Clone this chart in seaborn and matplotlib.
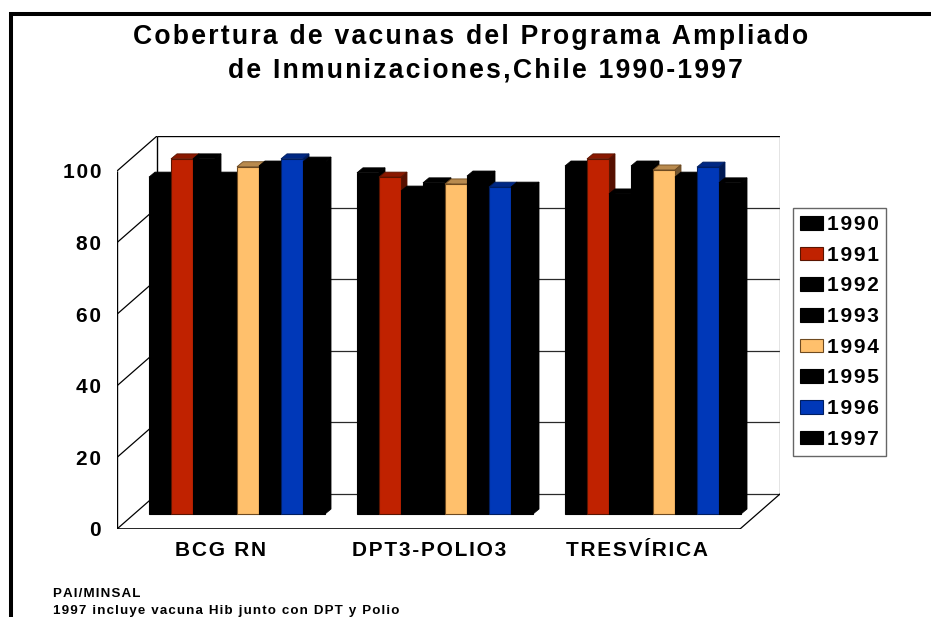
import numpy as np
import pandas as pd
import matplotlib
matplotlib.use("Agg")
import matplotlib.pyplot as plt
from matplotlib.lines import Line2D
from matplotlib.patches import Polygon
from matplotlib.colors import to_rgb
import seaborn as sns

vacunas = ["BCG RN", "DPT3-POLIO3", "TRESVÍRICA"]
years = ["1990", "1991", "1992", "1993", "1994", "1995", "1996", "1997"]
bcg = [94.1, 99.2, 99.2, 94.1, 97.0, 97.2, 99.2, 98.3]
dpt = [95.3, 94.1, 90.2, 92.5, 92.2, 94.4, 91.3, 91.3]
tres = [97.2, 99.2, 89.4, 97.2, 96.1, 94.1, 96.9, 92.5]
y_ticks = [0, 20, 40, 60, 80, 100]
year_colors = ["#000000", "#C02200", "#000000", "#000000",
               "#FFC06C", "#000000", "#0038B8", "#000000"]
year_edges = ["#000000", "#5A1400", "#000000", "#000000",
              "#6E4A20", "#000000", "#001E60", "#000000"]

W, H = 931, 617
PX_X = 208.0   # px per category
PX_Y = 3.58    # px per percent
CENTER0 = 237  # px of first group centre
BASE = 514     # px of value 0 at the bars


def spaced(s, n=1):
    return ("\u200a" * n).join(s)


sns.set_theme(style="white")
plt.rcParams["font.family"] = ["Liberation Sans", "DejaVu Sans"]
plt.rcParams["font.weight"] = "bold"

df = pd.DataFrame({
    "vacuna": np.repeat(vacunas, len(years)),
    "year": years * len(vacunas),
    "value": bcg + dpt + tres,
})

fig = plt.figure(figsize=(W / 100, H / 100), dpi=100)
fig.patch.set_facecolor("white")
ax = fig.add_axes([117 / W, 1 - 529 / H, (780 - 117) / W, (529 - 136) / H])
ax.patch.set_alpha(0)

sns.barplot(
    data=df, x="vacuna", y="value", hue="year", hue_order=years,
    palette=dict(zip(years, year_colors)), saturation=1,
    width=176 / 208, gap=0, ax=ax, legend=False, errorbar=None,
)

ax.set_xlim((117 - CENTER0) / PX_X, (780 - CENTER0) / PX_X)
ax.set_ylim((BASE - 529) / PX_Y, (BASE - 136) / PX_Y)
for s in ax.spines.values():
    s.set_visible(False)
ax.set_xlabel("")
ax.set_ylabel("")

# box: floor is 15 px below the bars at the front, 20 px above at the back
front = (BASE - 529) / PX_Y
back = (BASE - 494) / PX_Y
xl, xr = ax.get_xlim()
dx_wall = 40 / PX_X
ax.hlines([back + t for t in y_ticks[:-1]], xl + dx_wall, xr, color="#2a2a2a", lw=0.9, zorder=0.5)
ax.hlines(back + 100, xl + dx_wall, xr, color="black", lw=1.0, zorder=0.5)
ax.vlines(xl + dx_wall, back, back + 100, color="black", lw=1.0, zorder=0.5)
ax.vlines(xr, back, back + 100, color="#777777", lw=1.0, zorder=0.5)
ax.vlines(xl, front, front + 100, color="black", lw=1.0, zorder=0.5)
ax.hlines(front, xl, xr - dx_wall, color="black", lw=1.2, zorder=0.5)
ax.plot([xr - dx_wall, xr], [front, back], color="black", lw=0.9, zorder=0.5)
for t in y_ticks:
    ax.plot([xl, xl + dx_wall], [front + t, back + t], color="black", lw=0.9, zorder=0.5)

# faux 3D faces on every bar, painted left to right
dx, dy = 6 / PX_X, 5 / PX_Y
bars = sorted(ax.patches, key=lambda p: p.get_x())
order = [(i, j) for i in range(len(vacunas)) for j in range(len(years))]
for k, p in enumerate(bars):
    j = order[k][1]
    x0, w, h = p.get_x(), p.get_width(), p.get_height()
    base = np.array(to_rgb(year_colors[j]))
    z = 2 + k * 0.01
    p.set_zorder(z + 0.002)
    p.set_edgecolor(year_edges[j])
    p.set_linewidth(0.8)
    ax.add_patch(Polygon([(x0, h), (x0 + dx, h + dy), (x0 + w + dx, h + dy), (x0 + w, h)],
                         facecolor=base * 0.72, edgecolor=year_edges[j], lw=0.6, zorder=z))
    ax.add_patch(Polygon([(x0 + w, 0), (x0 + w + dx, dy), (x0 + w + dx, h + dy), (x0 + w, h)],
                         facecolor=base * 0.45, edgecolor=year_edges[j], lw=0.6, zorder=z))

ax.set_yticks([t + front for t in y_ticks])
ax.set_yticklabels([spaced(str(t)) for t in y_ticks], fontsize=15, fontweight="bold", color="black")
ax.set_xticks([i - 16 / PX_X for i in range(len(vacunas))])
ax.set_xticklabels([spaced(v) for v in vacunas], fontsize=15, fontweight="bold", color="black")
ax.tick_params(axis="y", length=0, pad=11.5)
ax.tick_params(axis="x", length=0, pad=9)

# legend
handles = [plt.Rectangle((0, 0), 1, 1, facecolor=c, edgecolor=e, lw=0.8)
           for c, e in zip(year_colors, year_edges)]
leg = fig.legend(
    handles, [spaced(y) for y in years],
    loc="upper left", bbox_to_anchor=(793 / W, 1 - 208 / H), bbox_transform=fig.transFigure,
    borderaxespad=0, frameon=True, fancybox=False, edgecolor="#666666", framealpha=1,
    fontsize=15, handlelength=1.1, handleheight=0.625, handletextpad=0.2,
    labelspacing=0.56, borderpad=0.34,
)
leg.get_frame().set_linewidth(1.0)
for t in leg.get_texts():
    t.set_fontweight("bold")
    t.set_color("black")

# page frame, left and top only
fig.add_artist(Line2D([11 / W, 11 / W], [0, 1 - 12 / H], color="black", lw=2.9, solid_capstyle="butt"))
fig.add_artist(Line2D([9 / W, 1], [1 - 14 / H, 1 - 14 / H], color="black", lw=2.9, solid_capstyle="butt"))

title_1 = "Cobertura de vacunas del Programa Ampliado"
title_2 = "de Inmunizaciones,Chile 1990-1997"
note_1 = "PAI/MINSAL"
note_2 = "1997 incluye vacuna Hib junto con DPT y Polio"
fig.text(133 / W, 1 - 37 / H, spaced(title_1), fontsize=19.1, fontweight="bold", color="black", va="center")
fig.text(228 / W, 1 - 70 / H, spaced(title_2), fontsize=19.1, fontweight="bold", color="black", va="center")
fig.text(53 / W, 1 - 594 / H, spaced(note_1), fontsize=9.6, fontweight="bold", color="black", va="center")
fig.text(53 / W, 1 - 611 / H, spaced(note_2), fontsize=9.6, fontweight="bold", color="black", va="center")

fig.savefig("out.png", dpi=100)
